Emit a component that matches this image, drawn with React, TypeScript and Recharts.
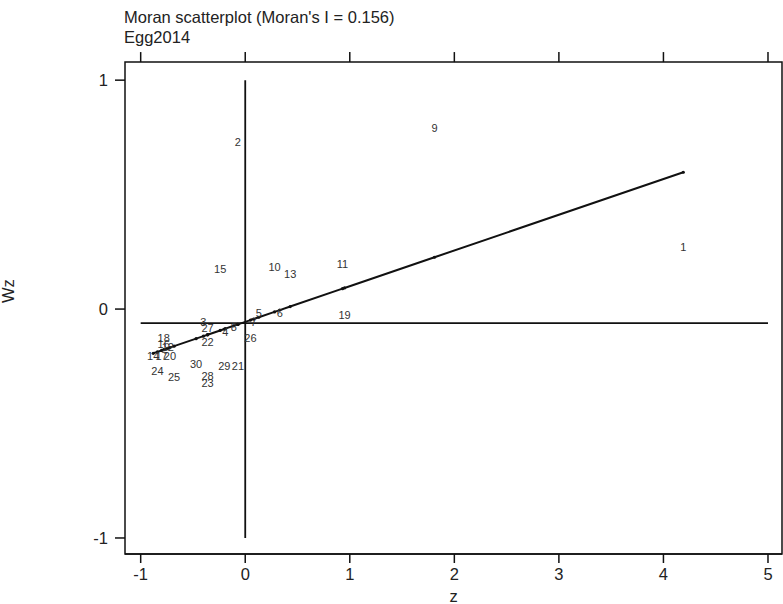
import React from 'react';
import {
  ScatterChart,
  Scatter,
  XAxis,
  YAxis,
  ReferenceLine,
  ReferenceArea,
} from 'recharts';

// Region identifiers, standardized z and spatial lag Wz
const regionIds = [
  1, 2, 3, 4, 5, 6, 7, 8, 9, 10,
  11, 12, 13, 14, 15, 16, 17, 18, 19, 20,
  21, 22, 23, 24, 25, 26, 27, 28, 29, 30,
];
const zValues = [
  4.19, -0.07, -0.4, -0.19, 0.13, 0.33, 0.08, -0.11, 1.81, 0.28,
  0.93, -0.74, 0.43, -0.88, -0.24, -0.78, -0.8, -0.78, 0.95, -0.72,
  -0.07, -0.36, -0.36, -0.84, -0.68, 0.05, -0.36, -0.36, -0.2, -0.47,
];
const wzValues = [
  0.27, 0.73, -0.057, -0.1, -0.017, -0.017, -0.057, -0.079, 0.79, 0.183,
  0.197, -0.166, 0.153, -0.205, 0.175, -0.153, -0.205, -0.127, -0.026, -0.205,
  -0.249, -0.144, -0.323, -0.271, -0.297, -0.127, -0.083, -0.293, -0.249, -0.24,
];

const MORAN_I = 0.156;
const FIT_INTERCEPT = -0.056;
const MEAN_WZ = -0.061;

const xTicks = [-1, 0, 1, 2, 3, 4, 5];
const yTicks = [-1, 0, 1];
const xDomain: [number, number] = [-1.15, 5.134];
const FRAME_BOTTOM = -1.07;
const FRAME_TOP = 1.079;
const TOP_TICK_END = 1.123; // room above the frame for the outward top ticks
const yDomain: [number, number] = [FRAME_BOTTOM, TOP_TICK_END];

const points = regionIds.map((id, i) => ({ id, z: zValues[i], wz: wzValues[i] }));
const fitted = [...zValues]
  .sort((a, b) => a - b)
  .map((z) => ({ z, wz: FIT_INTERCEPT + MORAN_I * z }));
const topTickMarks = xTicks.map((t) => ({ z: t, wz: FRAME_TOP }));

const FONT = '"Liberation Sans", Arial, Helvetica, sans-serif';
const INK = '#111';

const LabelShape = (props: any) => {
  const { cx, cy, payload } = props;
  return (
    <text
      x={cx}
      y={cy}
      textAnchor="middle"
      dominantBaseline="central"
      fontSize={11}
      fontFamily={FONT}
      fill="#333"
    >
      {payload.id}
    </text>
  );
};

const FitDot = (props: any) => {
  const { cx, cy } = props;
  return <circle cx={cx} cy={cy} r={1.6} fill={INK} />;
};

const TopTickShape = (props: any) => {
  const { cx, cy } = props;
  return <line x1={cx} x2={cx} y1={cy} y2={cy - 10} stroke={INK} strokeWidth={1.5} />;
};

export default function App() {
  return (
    <div style={{ position: 'absolute', left: 0, top: 0, width: 783, height: 604, background: '#fff' }}>
      <div
        style={{
          position: 'absolute',
          left: 124,
          top: 7,
          fontFamily: FONT,
          fontSize: 16.5,
          lineHeight: '20px',
          color: '#222',
          whiteSpace: 'nowrap',
        }}
      >
        <div>Moran scatterplot (Moran's I = {MORAN_I})</div>
        <div>Egg2014</div>
      </div>
      <ScatterChart
        width={783}
        height={604}
        margin={{ top: 52, right: 1, bottom: 0, left: 0 }}
        style={{ fontFamily: FONT }}
      >
        <XAxis
          xAxisId="bottom"
          type="number"
          dataKey="z"
          domain={xDomain}
          ticks={xTicks}
          height={50}
          tickSize={9}
          tickMargin={5}
          axisLine={{ stroke: INK, strokeWidth: 1.5 }}
          tickLine={{ stroke: INK, strokeWidth: 1.5 }}
          tick={{ fill: '#222', fontSize: 16.5, fontFamily: FONT }}
          label={{ value: 'z', position: 'insideBottom', offset: 2, fill: '#222', fontSize: 16.5, fontFamily: FONT }}
        />
        <YAxis
          yAxisId="left"
          type="number"
          dataKey="wz"
          domain={yDomain}
          ticks={yTicks}
          width={125}
          tickSize={10}
          tickMargin={7}
          axisLine={false}
          tickLine={{ stroke: INK, strokeWidth: 1.5 }}
          tick={{ fill: '#222', fontSize: 16.5, fontFamily: FONT }}
          label={{ value: 'Wz', angle: -90, position: 'insideLeft', offset: 8, fill: '#222', fontSize: 16.5, fontFamily: FONT }}
        />
        <ReferenceArea
          xAxisId="bottom"
          yAxisId="left"
          x1={xDomain[0]}
          x2={xDomain[1]}
          y1={FRAME_BOTTOM}
          y2={FRAME_TOP}
          fill="none"
          fillOpacity={0}
          stroke={INK}
          strokeWidth={1.5}
          ifOverflow="visible"
        />
        <ReferenceLine
          xAxisId="bottom"
          yAxisId="left"
          segment={[{ x: 0, y: -1 }, { x: 0, y: 1 }]}
          stroke={INK}
          strokeWidth={1.8}
        />
        <ReferenceLine
          xAxisId="bottom"
          yAxisId="left"
          segment={[{ x: -1, y: MEAN_WZ }, { x: 5, y: MEAN_WZ }]}
          stroke={INK}
          strokeWidth={1.8}
        />
        <Scatter
          xAxisId="bottom"
          yAxisId="left"
          data={topTickMarks}
          shape={<TopTickShape />}
          isAnimationActive={false}
        />
        <Scatter
          xAxisId="bottom"
          yAxisId="left"
          data={fitted}
          line={{ stroke: INK, strokeWidth: 2 }}
          shape={<FitDot />}
          isAnimationActive={false}
        />
        <Scatter
          xAxisId="bottom"
          yAxisId="left"
          data={points}
          shape={<LabelShape />}
          isAnimationActive={false}
        />
      </ScatterChart>
    </div>
  );
}
